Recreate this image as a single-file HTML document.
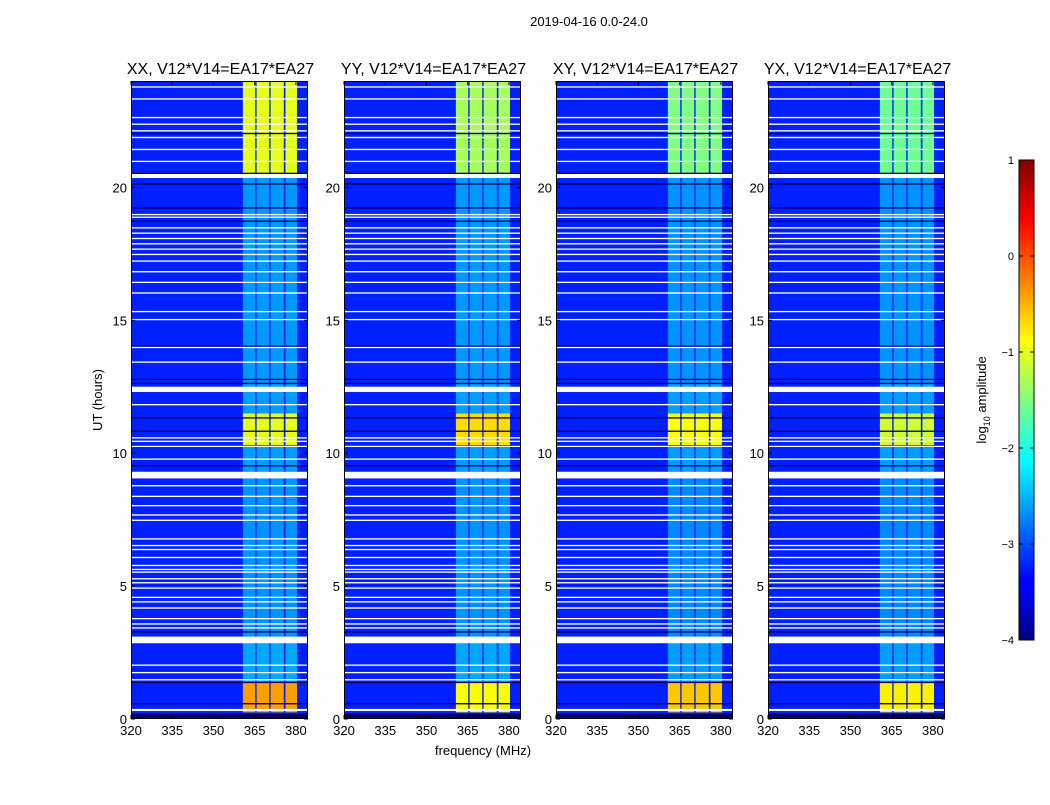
<!DOCTYPE html>
<html><head><meta charset="utf-8">
<style>
html,body{margin:0;padding:0;background:#fff;}
body{width:1050px;height:800px;overflow:hidden;font-family:"Liberation Sans",sans-serif;}
svg text{font-family:"Liberation Sans",sans-serif;}
</style></head>
<body>
<svg id="fig" width="1050" height="800" xmlns="http://www.w3.org/2000/svg">
<defs>
<linearGradient id="jet" x1="0" y1="1" x2="0" y2="0">
<stop offset="0" stop-color="#000080"/><stop offset="0.11" stop-color="#0000ff"/>
<stop offset="0.125" stop-color="#0000ff"/><stop offset="0.34" stop-color="#00e0ff"/>
<stop offset="0.375" stop-color="#00ffff"/><stop offset="0.5" stop-color="#80ff80"/>
<stop offset="0.625" stop-color="#ffff00"/><stop offset="0.875" stop-color="#ff0000"/>
<stop offset="1" stop-color="#800000"/>
</linearGradient>
</defs>
<text x="589" y="26" font-size="13" text-anchor="middle">2019-04-16 0.0-24.0</text>
<text transform="translate(102,400) rotate(-90)" font-size="13" text-anchor="middle">UT (hours)</text>
<text x="483" y="755" font-size="13" text-anchor="middle">frequency (MHz)</text>
<g id="panels"></g>
<g id="cbar"></g>
</svg>
<script>
const panelTitles = ["XX, V12*V14=EA17*EA27","YY, V12*V14=EA17*EA27","XY, V12*V14=EA17*EA27","YX, V12*V14=EA17*EA27"];
const xTicks = [320,335,350,365,380];
const yTicks = [0,5,10,15,20];
const subBands = [[360.7,365.2],[365.7,370.3],[370.8,375.6],[376.2,380.4]];
const timeSegs = [[0.25,1.4],[1.4,2.9],[2.9,9.3],[9.3,10.3],[10.3,11.5],[11.5,12.6],[12.6,20.4],[20.4,24]];
const bandXX = [-0.4,-2.55,-2.65,-2.6,-1.0,-2.6,-2.62,-1.0];
const bandYY = [-0.9,-2.55,-2.65,-2.6,-0.7,-2.6,-2.62,-1.3];
const bandXY = [-0.6,-2.6,-2.7,-2.6,-0.9,-2.6,-2.65,-1.5];
const bandYX = [-0.8,-2.6,-2.7,-2.6,-1.1,-2.6,-2.65,-1.6];
const bandLevels = [bandXX,bandYY,bandXY,bandYX];
const bgLevel = -3.22;
const darkRows = [[0,0.2],[0.55,0.6],[1.35,1.4],[3.25,3.3],[9.5,9.55],[10.25,10.3],[10.8,10.85],[11.3,11.35],[12.6,12.65],[12.75,12.8],[14.0,14.05],[16.4,16.45],[18.7,18.75],[19.2,19.25],[20.1,20.15],[20.5,20.55],[22.0,22.05]];
const flagRows = [[0.3,0.38],[1.45,1.5],[1.72,1.77],[2.0,2.05],[2.85,3.1],[3.4,3.45],[3.55,3.6],[3.75,3.8],[4.15,4.2],[4.38,4.43],[4.55,4.6],[4.9,4.95],[5.1,5.15],[5.25,5.3],[5.5,5.55],[5.6,5.65],[5.75,5.8],[6.05,6.1],[6.35,6.4],[6.5,6.55],[6.75,6.8],[7.45,7.5],[7.65,7.7],[8.0,8.05],[8.35,8.4],[8.75,8.8],[9.05,9.3],[9.75,9.8],[10.25,10.28],[10.42,10.47],[10.55,10.6],[11.8,11.85],[12.3,12.5],[13.4,13.45],[13.95,14.0],[15.0,15.05],[15.3,15.35],[16.0,16.05],[16.4,16.45],[16.8,16.85],[17.2,17.25],[17.45,17.5],[17.65,17.7],[17.85,17.9],[18.05,18.1],[18.25,18.3],[18.45,18.5],[18.85,18.9],[18.95,19.0],[20.35,20.5],[20.95,21.0],[21.4,21.45],[21.85,21.9],[22.1,22.15],[22.35,22.4],[22.6,22.65],[23.3,23.35],[23.75,23.8]];
const cbTicks = [1,0,-1,-2,-3,-4];

const panelX = [131,344,556,768];
const PW=177, PT=81, PB=719;
const F0=320, F1=384.4, H0=0, H1=24;
const V0=-4, V1=1;

function jet(v){
  let t=Math.max(0,Math.min(1,(v-V0)/(V1-V0)));
  const f=(a)=>Math.max(0,Math.min(1,1.5-Math.abs(4*t-a)));
  const r=f(3),g=f(2),b=f(1);
  return `rgb(${Math.round(r*255)},${Math.round(g*255)},${Math.round(b*255)})`;
}
const NS="http://www.w3.org/2000/svg";
function el(tag,attrs,parent){const e=document.createElementNS(NS,tag);for(const k in attrs)e.setAttribute(k,attrs[k]);parent.appendChild(e);return e;}

const panels=document.getElementById('panels');
panelX.forEach((px,pi)=>{
  const xs=f=>px+(f-F0)/(F1-F0)*PW;
  const ys=h=>PB-(h-H0)/(H1-H0)*(PB-PT);
  const g=el('g',{},panels);
  
  
  const bg=el('rect',{x:px,y:PT,width:PW,height:PB-PT,fill:jet(bgLevel)},g);
  
  
  timeSegs.forEach((s,si)=>{
    const lv=bandLevels[pi][si];
    subBands.forEach(b=>{
      const r=el('rect',{x:xs(b[0]),y:ys(s[1]),width:xs(b[1])-xs(b[0]),height:ys(s[0])-ys(s[1]),fill:jet(lv)},g);
      
      
    });
  });
  darkRows.forEach(d=>{
    const r=el('rect',{x:px,y:ys(d[1]),width:PW,height:Math.max(1.2,ys(d[0])-ys(d[1])),fill:'#00006a'},g);
    
    
  });
  flagRows.forEach(d=>{
    const r=el('rect',{x:px,y:ys(d[1]),width:PW,height:Math.max(1.3,ys(d[0])-ys(d[1])),fill:'#ffffff'},g);
    
    
  });
  const fr=el('rect',{x:px+0.5,y:PT+0.5,width:PW-1,height:PB-PT-1,fill:'none',stroke:'#000','stroke-width':1},g);
  
  
  xTicks.forEach(t=>{
    const x=xs(t);
    el('line',{x1:x,y1:PB,x2:x,y2:PB-4,stroke:'#000'},g);
    el('line',{x1:x,y1:PT,x2:x,y2:PT+4,stroke:'#000'},g);
    const tx=el('text',{x:x,y:PB+16,'font-size':13,'text-anchor':'middle'},g);
    tx.textContent=t;
    
    
  });
  yTicks.forEach(t=>{
    const y=ys(t);
    el('line',{x1:px,y1:y,x2:px+4,y2:y,stroke:'#000'},g);
    el('line',{x1:px+PW,y1:y,x2:px+PW-4,y2:y,stroke:'#000'},g);
    const tx=el('text',{x:px-4,y:y+5,'font-size':13,'text-anchor':'end'},g);
    tx.textContent=t;
    
    
  });
  const tt=el('text',{x:px+PW/2+1,y:74,'font-size':16,'text-anchor':'middle'},g);
  tt.textContent=panelTitles[pi];
  
  
});

const cb=document.getElementById('cbar');
const CX=1019,CW=15,CT=160,CB=640;
const cys=v=>CB-(v-V0)/(V1-V0)*(CB-CT);
const cr=el('rect',{x:CX,y:CT,width:CW,height:CB-CT,fill:'url(#jet)',stroke:'#000','stroke-width':1},cb);


cbTicks.forEach(t=>{
  const y=cys(t);
  el('line',{x1:CX,y1:y,x2:CX+4,y2:y,stroke:'#000'},cb);
  el('line',{x1:CX+CW,y1:y,x2:CX+CW-4,y2:y,stroke:'#000'},cb);
  const tx=el('text',{x:CX-5,y:y+4,'font-size':11,'text-anchor':'end'},cb);
  tx.textContent=t<0?'\u2212'+(-t):String(t);
  
  
});
const cl=el('text',{transform:'translate(986,400) rotate(-90)','font-size':13,'text-anchor':'middle'},cb);
cl.innerHTML='log<tspan font-size="9" dy="4">10</tspan><tspan dy="-4"> amplitude</tspan>';


</script>
</body></html>
